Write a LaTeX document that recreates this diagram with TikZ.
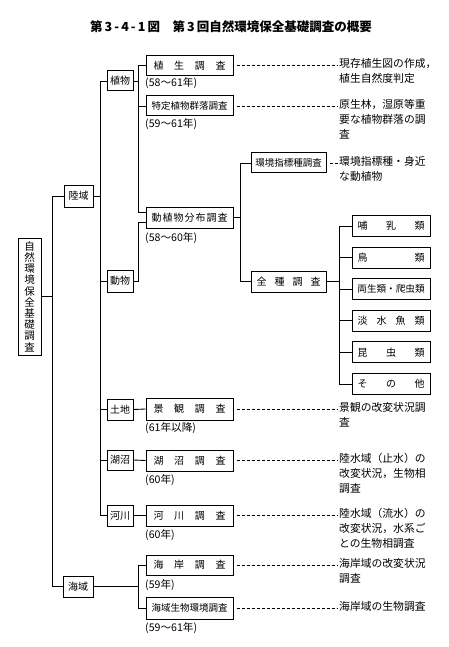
\documentclass[tikz,border=0pt]{standalone}
\usepackage{fontspec}
\setmainfont{Noto Sans CJK JP}
\newcommand\spr[2]{\makebox[#1][s]{#2}}
\begin{document}
\begin{tikzpicture}[x=1pt,y=-1pt,
  box/.style={draw, line width=1pt, inner sep=0pt, minimum height=20pt, font=\fontsize{10}{12}\selectfont},
  bigbox/.style={box, minimum width=87pt},
  midbox/.style={box, minimum width=75pt},
  spbox/.style={box, minimum width=78pt, minimum height=21pt},
  smallbox/.style={box, minimum width=26pt},
  lin/.style={line width=0.9pt},
  dsh/.style={line width=0.6pt, dash pattern=on 3pt off 2pt},
  desc/.style={anchor=north west, inner sep=1pt, align=left, font=\fontsize{10.8}{15}\selectfont},
  year/.style={anchor=west, inner sep=0pt, font=\fontsize{10.6}{12}\selectfont}]
\useasboundingbox (0,0) rectangle (449,647);

\node[font=\bfseries\fontsize{12.5}{14}\selectfont] (title) at (231,27) {第\,3\,-\,4\,-\,1\,図\quad 第\,3\,回自然環境保全基礎調査の概要};

% root
\node[box, minimum width=23pt, minimum height=117pt, align=center, font=\fontsize{10.5}{11.2}\selectfont] (root) at (29.5,296.5) {自\\然\\環\\境\\保\\全\\基\\礎\\調\\査};

\node[box, minimum width=29pt, minimum height=22pt] (riku) at (78.5,196) {陸域};
\node[box, minimum width=30pt, minimum height=21pt] (kai) at (78,586.5) {海域};

\node[smallbox] (plant) at (120,81) {植物};
\node[smallbox, minimum height=22pt] (animal) at (120,281) {動物};
\node[smallbox, minimum height=21pt] (land) at (120,409.5) {土地};
\node[smallbox] (lake) at (120,460) {湖沼};
\node[smallbox, minimum height=21pt] (river) at (120,515.5) {河川};

\node[bigbox] (shokusei) at (189.5,65.5) {\spr{72pt}{植\hfill 生\hfill 調\hfill 査}};
\node[bigbox, font=\fontsize{9.5}{12}\selectfont] (tokutei) at (189.5,106) {特定植物群落調査};
\node[bigbox, minimum height=21pt] (bunpu) at (189.5,217.5) {\spr{76pt}{動\hfill 植\hfill 物\hfill 分\hfill 布\hfill 調\hfill 査}};
\node[bigbox, minimum height=22pt] (keikan) at (189.5,409) {\spr{72pt}{景\hfill 観\hfill 調\hfill 査}};
\node[bigbox, minimum height=21pt] (kosho) at (189.5,460.5) {\spr{72pt}{湖\hfill 沼\hfill 調\hfill 査}};
\node[bigbox, minimum height=21pt] (kasen) at (189.5,515.5) {\spr{72pt}{河\hfill 川\hfill 調\hfill 査}};
\node[bigbox] (kaigan) at (189.5,565) {\spr{72pt}{海\hfill 岸\hfill 調\hfill 査}};
\node[bigbox, minimum height=22pt, font=\fontsize{9.5}{12}\selectfont] (kseibutsu) at (189.5,608) {海域生物環境調査};

\node[midbox, font=\fontsize{9.5}{12}\selectfont] (kankyo) at (288.5,163) {環境指標種調査};
\node[midbox, minimum height=21pt] (zenshu) at (288.5,281.5) {\spr{64pt}{全\hfill 種\hfill 調\hfill 査}};

\node[spbox] (sp1) at (391,226) {\spr{67pt}{哺\hfill 乳\hfill 類}};
\node[spbox] (sp2) at (391,257.6) {\spr{67pt}{鳥\hfill 類}};
\node[spbox, font=\fontsize{9.6}{12}\selectfont] (sp3) at (391,289.2) {両生類・爬虫類};
\node[spbox] (sp4) at (391,320.8) {\spr{67pt}{淡\hfill 水\hfill 魚\hfill 類}};
\node[spbox] (sp5) at (391,352.4) {\spr{67pt}{昆\hfill 虫\hfill 類}};
\node[spbox] (sp6) at (391,384) {\spr{67pt}{そ\hfill の\hfill 他}};

% years
\node[year] (y1) at (145,83) {(58～61年)};
\node[year] (y2) at (145,124) {(59～61年)};
\node[year] (y3) at (145,238) {(58～60年)};
\node[year] (y4) at (145,428) {(61年以降)};
\node[year] (y5) at (145,480) {(60年)};
\node[year] (y6) at (145,535) {(60年)};
\node[year] (y7) at (145,585) {(59年)};
\node[year] (y8) at (145,628) {(59～61年)};

% descriptions
\node[desc] (d1) at (338,57) {現存植生図の作成，\\植生自然度判定};
\node[desc] (d2) at (338,98) {原生林，湿原等重\\要な植物群落の調\\査};
\node[desc] (d3) at (338,155) {環境指標種・身近\\な動植物};
\node[desc] (d4) at (338,401) {景観の改変状況調\\査};
\node[desc] (d5) at (338,452) {陸水域（止水）の\\改変状況，生物相\\調査};
\node[desc] (d6) at (338,507) {陸水域（流水）の\\改変状況，水系ご\\との生物相調査};
\node[desc] (d7) at (338,557) {海岸域の改変状況\\調査};
\node[desc] (d8) at (338,600) {海岸域の生物調査};

% bus coordinates
\coordinate (b1) at (52,0);
\coordinate (b2) at (100,0);
\coordinate (b3) at (138,0);
\coordinate (b4) at (240,0);
\coordinate (b5) at (339,0);
\coordinate (dpA) at ([yshift=5pt]bunpu.west);
\coordinate (dpB) at ([yshift=-5pt]bunpu.west);

% connectors
\draw[lin] (root.east) -- (root.east -| b1);
\draw[lin] (riku.west) -- (riku.west -| b1) |- (kai.west);
\draw[lin] (riku.east) -- (riku.east -| b2);
\draw[lin] (plant.west) -- (plant.west -| b2) |- (river.west);
\draw[lin] (animal.west) -- (animal.west -| b2);
\draw[lin] (land.west) -- (land.west -| b2);
\draw[lin] (lake.west) -- (lake.west -| b2);
\draw[lin] (plant.east) -- (plant.east -| b3);
\draw[lin] (shokusei.west) -- (shokusei.west -| b3) |- (dpA);
\draw[lin] (tokutei.west) -- (tokutei.west -| b3);
\draw[lin] (animal.east) -- (animal.east -| b3) |- (dpB);
\draw[lin] (bunpu.east) -- (bunpu.east -| b4);
\draw[lin] (kankyo.west) -- (kankyo.west -| b4) |- (zenshu.west);
\draw[lin] (zenshu.east) -- (zenshu.east -| b5);
\draw[lin] (sp1.west) -- (sp1.west -| b5) |- (sp6.west);
\draw[lin] (sp2.west) -- (sp2.west -| b5);
\draw[lin] (sp3.west) -- (sp3.west -| b5);
\draw[lin] (sp4.west) -- (sp4.west -| b5);
\draw[lin] (sp5.west) -- (sp5.west -| b5);
\draw[lin] (land.east) -- (keikan.west);
\draw[lin] (lake.east) -- (kosho.west);
\draw[lin] (river.east) -- (kasen.west);
\draw[lin] (kai.east) -- (kai.east -| b3);
\draw[lin] (kaigan.west) -- (kaigan.west -| b3) |- (kseibutsu.west);

% dashed leaders
\draw[dsh] ([xshift=3pt]shokusei.east) -- (shokusei.east -| d1.west);
\draw[dsh] ([xshift=3pt]tokutei.east) -- (tokutei.east -| d2.west);
\draw[dsh] ([xshift=3pt]kankyo.east) -- (kankyo.east -| d3.west);
\draw[dsh] ([xshift=3pt]keikan.east) -- (keikan.east -| d4.west);
\draw[dsh] ([xshift=3pt]kosho.east) -- (kosho.east -| d5.west);
\draw[dsh] ([xshift=3pt]kasen.east) -- (kasen.east -| d6.west);
\draw[dsh] ([xshift=3pt]kaigan.east) -- (kaigan.east -| d7.west);
\draw[dsh] ([xshift=3pt]kseibutsu.east) -- (kseibutsu.east -| d8.west);
\end{tikzpicture}
\end{document}
